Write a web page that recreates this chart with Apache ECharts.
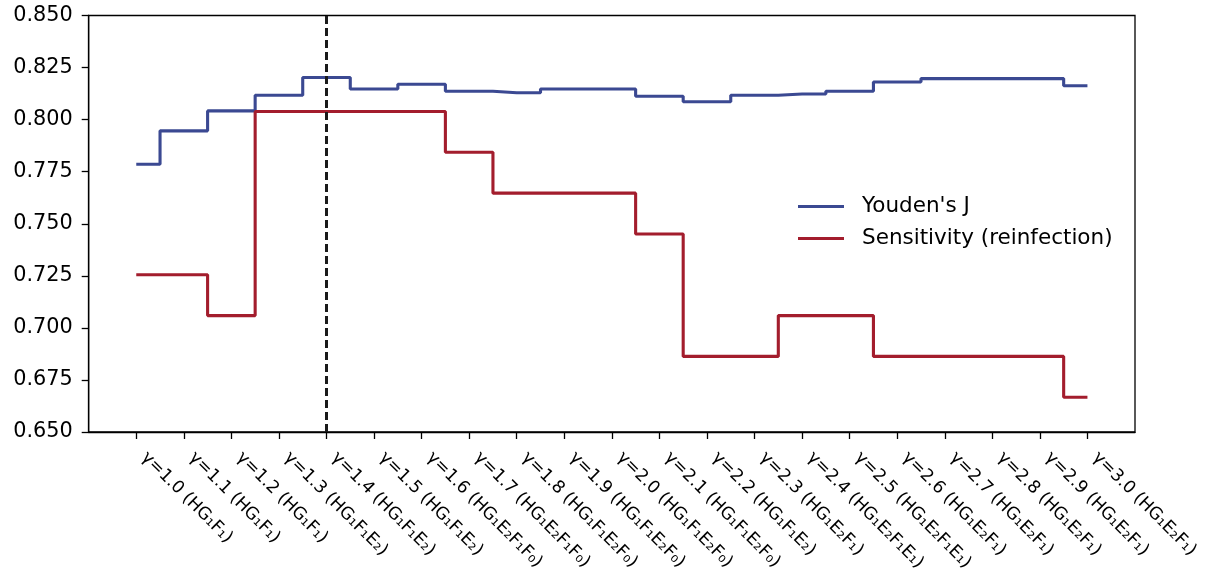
<!DOCTYPE html>
<html>
<head>
<meta charset="utf-8">
<script src="https://cdn.jsdelivr.net/npm/echarts@6/dist/echarts.min.js"></script>
<style>
  html, body { margin: 0; padding: 0; background: #fff; }
  #chart { width: 1206px; height: 584px; }
</style>
</head>
<body>
<div id="chart"></div>
<script>
// Threshold values γ and their group labels
const gammas = [1.0, 1.1, 1.2, 1.3, 1.4, 1.5, 1.6, 1.7, 1.8, 1.9, 2.0,
                2.1, 2.2, 2.3, 2.4, 2.5, 2.6, 2.7, 2.8, 2.9, 3.0];
const groups = [
  'HG₁F₁', 'HG₁F₁', 'HG₁F₁',
  'HG₁F₁E₂', 'HG₁F₁E₂', 'HG₁F₁E₂',
  'HG₁E₂F₁F₀', 'HG₁E₂F₁F₀',
  'HG₁F₁E₂F₀', 'HG₁F₁E₂F₀', 'HG₁F₁E₂F₀', 'HG₁F₁E₂F₀',
  'HG₁F₁E₂', 'HG₁E₂F₁',
  'HG₁E₂F₁E₁', 'HG₁E₂F₁E₁',
  'HG₁E₂F₁', 'HG₁E₂F₁', 'HG₁E₂F₁', 'HG₁E₂F₁', 'HG₁E₂F₁'
];
const tickLabels = gammas.map((g, i) => 'γ=' + g.toFixed(1) + ' (' + groups[i] + ')');

// Metric values per threshold
const youdenJ = [0.7786, 0.7946, 0.8042, 0.8117, 0.8202, 0.8147, 0.8170, 0.8136,
                 0.8129, 0.8147, 0.8147, 0.8112, 0.8086, 0.8117, 0.8123, 0.8136,
                 0.8181, 0.8197, 0.8197, 0.8197, 0.8163];
const sensitivity = [0.7255, 0.7255, 0.7059, 0.8039, 0.8039, 0.8039, 0.8039, 0.7843,
                     0.7647, 0.7647, 0.7647, 0.7451, 0.6863, 0.6863, 0.7059, 0.7059,
                     0.6863, 0.6863, 0.6863, 0.6863, 0.6667];
const yTicks = [0.650, 0.675, 0.700, 0.725, 0.750, 0.775, 0.800, 0.825, 0.850];
const chosenGamma = 1.4;

const FONT = 'DejaVu Sans';
const FS = 20.8;

const chart = echarts.init(document.getElementById('chart'), null, { renderer: 'canvas' });

const labelOf = {};
gammas.forEach((g, i) => { labelOf[g.toFixed(1)] = tickLabels[i]; });

chart.setOption({
  animation: false,
  backgroundColor: '#ffffff',
  grid: {
    left: 88.7, right: 71, top: 15.5, bottom: 152,
    show: true, borderColor: '#000', borderWidth: 1.3, backgroundColor: 'transparent'
  },
  legend: {
    orient: 'vertical',
    left: 793, top: 190,
    itemWidth: 46, itemHeight: 3, itemGap: 9,
    icon: 'rect',
    textStyle: { fontFamily: FONT, fontSize: 21.5, color: '#000', padding: [0, 0, 0, 13], lineHeight: 23 },
    data: ["Youden's J", 'Sensitivity (reinfection)']
  },
  xAxis: {
    type: 'value',
    min: 0.9, max: 3.1,
    splitLine: { show: false },
    axisLine: { show: true, onZero: false, lineStyle: { color: '#000', width: 1.3 } },
    axisTick: { show: true, length: 7, lineStyle: { color: '#000', width: 1.3 }, customValues: gammas },
    axisLabel: {
      customValues: gammas,
      rotate: -45,
      margin: 15,
      padding: [0, 0, 0, 11],
      fontFamily: FONT, fontSize: FS * 0.83, color: '#000',
      formatter: v => labelOf[Number(v).toFixed(1)] || ''
    }
  },
  yAxis: {
    type: 'value',
    min: 0.65, max: 0.85, interval: 0.025,
    splitLine: { show: false },
    axisLine: { show: true, onZero: false, lineStyle: { color: '#000', width: 1.3 } },
    axisTick: { show: true, length: 7, lineStyle: { color: '#000', width: 1.3 } },
    axisLabel: {
      margin: 16,
      fontFamily: FONT, fontSize: FS, color: '#000',
      formatter: v => Number(v).toFixed(3)
    }
  },
  series: [
    {
      name: "Youden's J",
      type: 'line',
      step: 'middle',
      symbol: 'none',
      color: '#3B4992',
      lineStyle: { color: '#3B4992', width: 3.1 },
      data: gammas.map((g, i) => [g, youdenJ[i]]),
      z: 3
    },
    {
      name: 'Sensitivity (reinfection)',
      type: 'line',
      step: 'middle',
      symbol: 'none',
      color: '#A31D2D',
      lineStyle: { color: '#A31D2D', width: 3.1 },
      data: gammas.map((g, i) => [g, sensitivity[i]]),
      z: 3,
      markLine: {
        silent: true,
        symbol: 'none',
        label: { show: false },
        lineStyle: { color: '#1a1a1a', width: 3, type: [8, 4] },
        emphasis: { disabled: true },
        data: [{ xAxis: chosenGamma }],
        z: 4
      }
    }
  ]
});
</script>
</body>
</html>
